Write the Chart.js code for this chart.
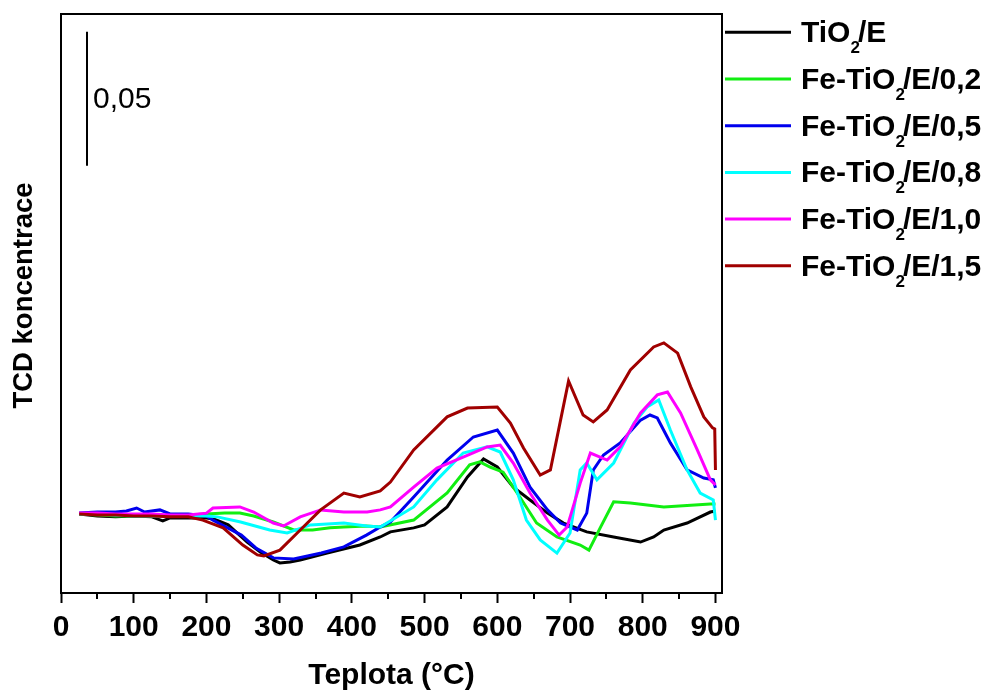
<!DOCTYPE html>
<html>
<head>
<meta charset="utf-8">
<title>TPR - TCD koncentrace</title>
<script src="https://cdn.jsdelivr.net/npm/chart.js@4.4.1/dist/chart.umd.min.js"></script>
<style>
  html, body { margin: 0; padding: 0; background: #fff; }
</style>
</head>
<body>
<canvas id="tpr" width="988" height="695"></canvas>
<script>
// series names, colours
const seriesNames = ['TiO2/E', 'Fe-TiO2/E/0,2', 'Fe-TiO2/E/0,5', 'Fe-TiO2/E/0,8', 'Fe-TiO2/E/1,0', 'Fe-TiO2/E/1,5'];
const seriesColors = ['#000000', '#11ee11', '#0000ee', '#00ffff', '#ff00ff', '#a00000'];

// temperature (°C) and TCD signal (x10^-3, arbitrary zero)
const tBlack = [25,50,75,100,125,140,150,175,200,210,230,256,274,292,301,315,329,366,411,439,453,485,500,531,559,581,600,622,645,669,691,723,760,797,815,829,861,893,900];
const vBlack = [29.5,28.7,28.4,28.7,28.4,26.9,28.0,28.0,28.0,27.6,25.4,19.0,15.3,12.3,11.2,11.6,12.3,14.9,17.9,20.9,22.8,24.3,25.4,32.1,43.3,50.0,47.0,39.5,34.7,29.8,26.1,22.8,20.9,19.0,20.9,23.5,26.1,30.2,30.6];

const tGreen = [25,50,75,100,125,150,175,200,225,246,265,292,320,346,370,389,420,439,485,531,562,576,590,608,631,654,682,714,726,742,760,783,829,893,900];
const vGreen = [29.5,29.1,28.7,28.7,28.7,28.7,29.1,29.5,29.8,29.8,28.7,26.5,23.5,23.5,24.3,24.6,25.0,24.6,27.2,37.3,47.8,48.9,47.0,45.1,35.8,26.1,20.9,17.9,16.0,24.6,34.0,33.6,32.1,33.2,33.2];

const tBlue = [25,50,75,90,104,115,136,150,175,200,209,248,268,292,320,358,389,420,439,453,485,531,567,600,622,645,669,687,710,723,732,746,769,797,810,820,838,861,884,897,900];
const vBlue = [29.8,30.2,30.2,30.6,31.7,30.2,31.0,29.5,29.5,28.7,27.2,21.6,16.8,13.1,12.7,14.9,17.2,21.6,24.6,26.5,35.8,49.6,58.2,60.8,52.2,39.5,31.0,26.1,23.5,29.8,45.9,51.5,56.0,64.5,66.4,65.3,56.0,45.9,42.9,42.2,39.2];

const tCyan = [25,50,75,100,125,150,175,200,215,247,287,311,343,389,420,439,485,517,553,586,604,622,640,659,682,700,714,723,737,760,788,806,822,838,861,879,897,900];
const vCyan = [29.5,29.5,29.1,28.7,28.7,28.7,28.7,28.7,28.4,26.5,23.5,22.4,25.4,26.1,25.0,24.6,32.1,42.2,52.2,54.5,52.6,42.2,27.2,19.8,14.9,22.4,45.9,48.5,42.2,48.5,63.4,69.4,72.0,60.8,45.9,37.3,34.7,27.2];

const tMagenta = [25,50,75,100,125,150,175,200,209,246,265,292,306,329,357,389,421,439,453,485,517,553,586,604,622,645,669,685,696,714,728,751,769,797,820,834,852,875,893,900];
const vMagenta = [29.8,29.8,29.5,29.5,29.5,29.1,29.1,29.8,31.7,32.1,30.2,26.1,25.0,28.4,31.0,30.2,30.2,31.0,32.1,39.5,46.6,50.7,54.5,55.2,48.5,37.3,27.2,21.6,24.6,41.0,52.2,49.6,54.5,67.2,73.9,75.0,67.2,53.4,42.2,40.3];

const tRed = [25,50,75,100,125,150,175,195,223,250,270,279,301,329,357,389,411,439,453,485,531,559,600,618,636,659,673,687,698,718,732,751,783,815,829,848,866,884,896,899,900];
const vRed = [29.5,29.1,29.1,28.7,28.7,28.4,28.4,27.2,24.3,17.9,14.2,13.8,16.0,23.5,31.0,37.3,35.8,38.1,41.4,53.4,65.7,69.0,69.4,63.4,54.1,44.0,45.9,64.5,79.1,66.4,63.8,68.3,83.2,91.8,93.3,89.5,76.9,65.7,61.6,61.2,45.9];

const seriesT = [tBlack, tGreen, tBlue, tCyan, tMagenta, tRed];
const seriesV = [vBlack, vGreen, vBlue, vCyan, vMagenta, vRed];

// axes
const xTicks = [0,50,100,150,200,250,300,350,400,450,500,550,600,650,700,750,800,850,900];
const xMin = 0, xMax = 909;
const yMin = 0, yMax = 216;
const yTitle = 'TCD koncentrace';

// scale bar: 0,05 = 50 units
const scaleBarT = 36;
const scaleBarFrom = 159.4;
const scaleBarSize = 50;
const scaleBarLabel = '0,05';

const FONT = "'Liberation Sans', Arial, sans-serif";

const datasets = seriesNames.map((name, i) => ({
  label: name,
  data: seriesT[i].map((t, k) => ({ x: t, y: seriesV[i][k] })),
  borderColor: seriesColors[i],
  backgroundColor: seriesColors[i],
  borderWidth: 3,
  pointRadius: 0,
  tension: 0,
  order: seriesNames.length - i
}));

// frame, minor ticks, y title, scale bar, legend
const extras = {
  id: 'extras',
  afterDraw(chart) {
    const ctx = chart.ctx;
    const a = chart.chartArea;
    const xs = chart.scales.x, ys = chart.scales.y;
    ctx.save();
    ctx.strokeStyle = '#000';
    ctx.lineWidth = 2;
    ctx.strokeRect(a.left, a.top, a.right - a.left, a.bottom - a.top);

    // minor ticks
    ctx.beginPath();
    xTicks.filter(v => v % 100 !== 0).forEach(v => {
      const px = Math.round(xs.getPixelForValue(v));
      ctx.moveTo(px, a.bottom);
      ctx.lineTo(px, a.bottom + 6);
    });
    ctx.stroke();

    // y title (sits a bit above the plot centre in the original)
    ctx.save();
    ctx.translate(24, (a.top + a.bottom) / 2 - 8);
    ctx.rotate(-Math.PI / 2);
    ctx.fillStyle = '#000';
    ctx.font = 'bold 27.5px ' + FONT;
    ctx.textAlign = 'center';
    ctx.textBaseline = 'middle';
    ctx.fillText(yTitle, 0, 0);
    ctx.restore();

    // scale bar
    const bx = Math.round(xs.getPixelForValue(scaleBarT));
    const by1 = ys.getPixelForValue(scaleBarFrom);
    const by2 = ys.getPixelForValue(scaleBarFrom + scaleBarSize);
    ctx.beginPath();
    ctx.moveTo(bx, by1);
    ctx.lineTo(bx, by2);
    ctx.stroke();
    ctx.fillStyle = '#000';
    ctx.font = '30px ' + FONT;
    ctx.textBaseline = 'alphabetic';
    ctx.fillText(scaleBarLabel, bx + 6, (by1 + by2) / 2 + 9);

    // legend
    const lx1 = 725, lx2 = 791, tx = 801;
    seriesNames.forEach((name, i) => {
      const ly = 32.3 + 46.7 * i;
      ctx.strokeStyle = seriesColors[i];
      ctx.lineWidth = 3;
      ctx.beginPath();
      ctx.moveTo(lx1, ly);
      ctx.lineTo(lx2, ly);
      ctx.stroke();

      const cut = name.indexOf('TiO2') + 3;
      let x = tx;
      const base = ly + 10;
      ctx.fillStyle = '#000';
      ctx.font = 'bold 30px ' + FONT;
      ctx.fillText(name.slice(0, cut), x, base);
      x += ctx.measureText(name.slice(0, cut)).width;
      ctx.font = 'bold 17px ' + FONT;
      ctx.fillText(name[cut], x, base + 11);
      x += ctx.measureText(name[cut]).width - 2;
      ctx.font = 'bold 30px ' + FONT;
      ctx.fillText(name.slice(cut + 1), x, base);
    });
    ctx.restore();
  }
};

new Chart(document.getElementById('tpr'), {
  type: 'line',
  data: { datasets },
  plugins: [extras],
  options: {
    responsive: false,
    animation: false,
    events: [],
    layout: { padding: { top: 14, right: 266, bottom: 0, left: 0 } },
    plugins: { legend: { display: false }, tooltip: { enabled: false } },
    scales: {
      x: {
        type: 'linear',
        min: xMin,
        max: xMax,
        afterBuildTicks: s => { s.ticks = xTicks.map(v => ({ value: v })); },
        afterFit: s => { s.height = 102; },
        ticks: {
          autoSkip: false,
          maxRotation: 0,
          padding: 6.5,
          color: '#000',
          font: { family: FONT, size: 30, weight: 'bold', lineHeight: 1.2 },
          callback: v => (v % 100 === 0 ? String(v) : '')
        },
        grid: {
          drawOnChartArea: false,
          tickLength: 10,
          tickWidth: 2,
          tickColor: c => (c.tick && c.tick.value % 100 === 0 ? '#000' : 'rgba(0,0,0,0)')
        },
        border: { display: true, color: '#000', width: 2 },
        title: {
          display: true,
          text: 'Teplota (°C)',
          color: '#000',
          font: { family: FONT, size: 30, weight: 'bold', lineHeight: 1.2 },
          padding: { top: 0, bottom: 1.5 }
        }
      },
      y: {
        type: 'linear',
        min: yMin,
        max: yMax,
        afterFit: s => { s.width = 61; },
        ticks: { display: false },
        grid: { display: false },
        border: { display: false },
        title: { display: false }
      }
    }
  }
});
</script>
</body>
</html>
